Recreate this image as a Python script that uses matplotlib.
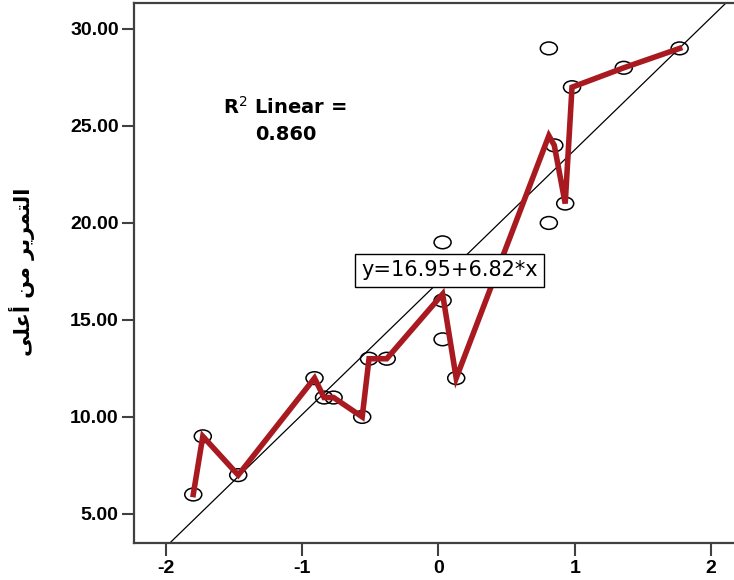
import numpy as np
import pandas as pd
import matplotlib
matplotlib.use("Agg")
import matplotlib.pyplot as plt
from matplotlib.path import Path
from matplotlib.transforms import Affine2D

# scores: standardised predictor vs. overhead passing test
x_vals = [-1.80, -1.73, -1.47, -0.91, -0.84, -0.77, -0.56, -0.51, -0.38,
          0.03, 0.03, 0.03, 0.13, 0.81, 0.81, 0.85, 0.93, 0.98, 1.36, 1.77]
y_vals = [6, 9, 7, 12, 11, 11, 10, 13, 13,
          14, 16, 19, 12, 20, 29, 24, 21, 27, 28, 29]

fit_a = 16.95
fit_b = 6.82
r2 = 0.860

x_ticks = [-2, -1, 0, 1, 2]
y_ticks = [5, 10, 15, 20, 25, 30]
y_label = "التمرير من أعلى"

# minimal arabic shaping (matplotlib has no bidi / contextual forms)
FORMS = {
    "ا": (0xFE8D, 0xFE8E, None, None),
    "أ": (0xFE83, 0xFE84, None, None),
    "ر": (0xFEAD, 0xFEAE, None, None),
    "ى": (0xFEEF, 0xFEF0, None, None),
    "ل": (0xFEDD, 0xFEDE, 0xFEDF, 0xFEE0),
    "ت": (0xFE95, 0xFE96, 0xFE97, 0xFE98),
    "م": (0xFEE1, 0xFEE2, 0xFEE3, 0xFEE4),
    "ي": (0xFEF1, 0xFEF2, 0xFEF3, 0xFEF4),
    "ن": (0xFEE5, 0xFEE6, 0xFEE7, 0xFEE8),
    "ع": (0xFEC9, 0xFECA, 0xFECB, 0xFECC),
}


def shape(s):
    out = []
    for i, c in enumerate(s):
        if c not in FORMS:
            out.append(c)
            continue
        iso, fin, ini, med = FORMS[c]
        prev = s[i - 1] if i > 0 else ""
        nxt = s[i + 1] if i + 1 < len(s) else ""
        pj = prev in FORMS and FORMS[prev][2] is not None
        nj = nxt in FORMS and ini is not None
        if pj and nj:
            out.append(chr(med))
        elif pj:
            out.append(chr(fin))
        elif nj:
            out.append(chr(ini))
        else:
            out.append(chr(iso))
    return "".join(out)[::-1]


df = pd.DataFrame({"x": x_vals, "y": y_vals})
means = df.groupby("x", as_index=False)["y"].mean()

fig = plt.figure(figsize=(7.34, 5.80), dpi=100)
ax = fig.add_axes([134 / 734, 37 / 580, 600 / 734, 540 / 580])

ax.set_xlim(-2.235, 2.169)
ax.set_ylim(3.5, 31.34)

# regression line
xl = np.array(ax.get_xlim())
ax.plot(xl, fit_a + fit_b * xl, color="black", lw=0.9, zorder=2)

# interpolation line through the means
ax.plot(means["x"], means["y"], color="#a81a20", lw=4.0,
        solid_joinstyle="miter", zorder=3)

# open ellipse markers
ell = Path.unit_circle().transformed(Affine2D().scale(1.0, 0.75))
ax.scatter(df["x"], df["y"], marker=ell, s=150, facecolors="none",
           edgecolors="black", linewidths=1.1, zorder=2.5)

ax.text(0.08, 17.55, "y=%.2f+%.2f*x" % (fit_a, fit_b), ha="center",
        va="center", fontsize=15, family="DejaVu Sans", zorder=5,
        bbox=dict(boxstyle="square,pad=0.3", fc="white", ec="black", lw=1))

ax.text(-1.13, 26.0, "R$^{2}$ Linear =", ha="center", va="center",
        fontsize=14, fontweight="bold", family="DejaVu Sans", zorder=5)
ax.text(-1.12, 24.55, "%.3f" % r2, ha="center", va="center",
        fontsize=14, fontweight="bold", family="DejaVu Sans", zorder=5)

ax.set_xticks(x_ticks)
ax.set_xticklabels([str(t) for t in x_ticks])
ax.set_yticks(y_ticks)
ax.set_yticklabels(["%.2f" % t for t in y_ticks])
for lab in ax.get_xticklabels() + ax.get_yticklabels():
    lab.set_fontfamily("Liberation Sans")
    lab.set_fontweight("bold")
    lab.set_fontsize(14)
ax.tick_params(axis="both", direction="out", length=9, width=1.5,
               color="#404040")
ax.tick_params(axis="x", pad=3)
ax.tick_params(axis="y", pad=2)

for side in ["left", "bottom", "top"]:
    ax.spines[side].set_color("#404040")
    ax.spines[side].set_linewidth(1.6)
ax.spines["right"].set_visible(False)

fig.text(22 / 734, 1 - 272 / 580, shape(y_label), rotation=90,
         ha="center", va="center", fontsize=15, fontweight="bold",
         family=["DejaVu Sans"])

fig.savefig("out.png", dpi=100)
